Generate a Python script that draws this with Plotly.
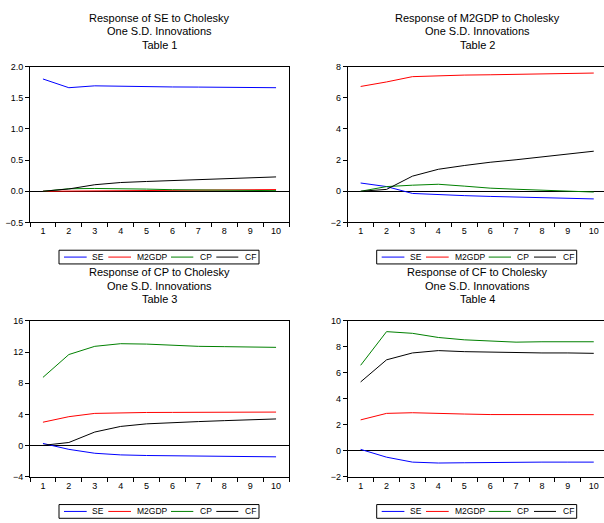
import plotly.graph_objects as go

periods = ["1", "2", "3", "4", "5", "6", "7", "8", "9", "10"]
series_names = ["SE", "M2GDP", "CP", "CF"]
series_colors = ["#0000FF", "#FF0000", "#008000", "#000000"]

# Table 1: Response of SE
t1_se = [1.80, 1.66, 1.69, 1.68, 1.675, 1.672, 1.67, 1.665, 1.66, 1.66]
t1_m2gdp = [0.0, 0.004, 0.008, 0.012, 0.015, 0.018, 0.02, 0.022, 0.025, 0.027]
t1_cp = [0.0, 0.04, 0.045, 0.045, 0.035, 0.025, 0.02, 0.015, 0.012, 0.01]
t1_cf = [0.0, 0.037, 0.105, 0.14, 0.157, 0.17, 0.19, 0.20, 0.22, 0.23]

# Table 2: Response of M2GDP
t2_se = [0.53, 0.30, -0.14, -0.22, -0.28, -0.33, -0.37, -0.41, -0.45, -0.49]
t2_m2gdp = [6.72, 7.01, 7.35, 7.42, 7.45, 7.47, 7.49, 7.52, 7.55, 7.58]
t2_cp = [0.0, 0.30, 0.39, 0.45, 0.33, 0.20, 0.13, 0.07, 0.02, -0.05]
t2_cf = [0.0, 0.12, 0.97, 1.41, 1.65, 1.86, 2.02, 2.20, 2.40, 2.57]

# Table 3: Response of CP
t3_se = [0.28, -0.48, -0.98, -1.19, -1.27, -1.32, -1.36, -1.36, -1.40, -1.44]
t3_m2gdp = [3.0, 3.71, 4.13, 4.22, 4.25, 4.26, 4.26, 4.27, 4.28, 4.30]
t3_cp = [8.75, 11.68, 12.73, 13.07, 13.02, 12.86, 12.73, 12.69, 12.65, 12.60]
t3_cf = [0.03, 0.40, 1.74, 2.46, 2.79, 2.96, 3.08, 3.20, 3.33, 3.42]

# Table 4: Response of CF
t4_se = [0.11, -0.49, -0.87, -0.94, -0.92, -0.89, -0.87, -0.87, -0.87, -0.87]
t4_m2gdp = [2.38, 2.88, 2.93, 2.86, 2.83, 2.79, 2.78, 2.78, 2.78, 2.78]
t4_cp = [6.58, 9.17, 9.04, 8.72, 8.54, 8.44, 8.36, 8.39, 8.39, 8.39]
t4_cf = [5.30, 7.00, 7.53, 7.71, 7.63, 7.58, 7.53, 7.53, 7.53, 7.50]

titles = [
    ["Response of SE to Cholesky", "One S.D. Innovations", "Table 1"],
    ["Response of M2GDP to Cholesky", "One S.D. Innovations", "Table 2"],
    ["Response of CP to Cholesky", "One S.D. Innovations", "Table 3"],
    ["Response of CF to Cholesky", "One S.D. Innovations", "Table 4"],
]
y_ranges = [[-0.5, 2.0], [-2, 8], [-4, 16], [-2, 10]]
y_dticks = [0.5, 2, 4, 2]
y_tickformat = [".1f", "d", "d", "d"]

panels = [
    [t1_se, t1_m2gdp, t1_cp, t1_cf],
    [t2_se, t2_m2gdp, t2_cp, t2_cf],
    [t3_se, t3_m2gdp, t3_cp, t3_cf],
    [t4_se, t4_m2gdp, t4_cp, t4_cf],
]

W, H = 604, 523
FONT = "Liberation Sans, Arial, sans-serif"

# pixel geometry of each panel frame: left, right, top, bottom
frames = [
    (30, 289, 62.7, 221.7),
    (347.7, 604, 62.7, 221.7),
    (30, 289, 322, 481),
    (347.7, 604, 322, 481),
]
cat_w = 25.9

# legend geometry relative to panel frame
leg_box = (29, 229, 28.3, 42.3)          # left, right (from frame left), top, bottom (from frame bottom)
leg_lines = [(5, 27.7), (49.3, 72), (112, 134.3), (157.3, 179.3)]  # from box left
leg_text_x = [31, 76, 138.7, 184.3]


def px(x):
    return x / W


def py(y):
    return 1 - y / H


fig = go.Figure()
annotations = []
shapes = []
layout = dict(
    width=W, height=H,
    margin=dict(l=0, r=0, t=0, b=0, pad=0),
    paper_bgcolor="white", plot_bgcolor="white",
    font=dict(family=FONT, size=9, color="#000000"),
    showlegend=False,
)

for i, (data, fr) in enumerate(zip(panels, frames)):
    idx = "" if i == 0 else str(i + 1)
    xa, ya = "x" + idx, "y" + idx
    for name, color, vals in zip(series_names, series_colors, data):
        fig.add_trace(go.Scatter(
            x=periods, y=vals, mode="lines", name=name,
            line=dict(color=color, width=1),
            xaxis=xa, yaxis=ya,
        ))
    left, right, top, bottom = fr
    x_hi = -0.5 + (right - left) / cat_w
    right_side = i in (1, 3)
    layout["xaxis" + idx] = dict(
        domain=[px(left), px(right)], anchor=ya,
        type="category", range=[-0.5, x_hi],
        tickson="boundaries", ticks="outside", ticklen=4, tickwidth=1,
        tickcolor="#000000", showline=True, linecolor="#000000", linewidth=1,
        mirror=True, showgrid=False, zeroline=False,
        tickfont=dict(family=FONT, size=9, color="#000000"),
    )
    layout["yaxis" + idx] = dict(
        domain=[py(bottom), py(top)], anchor=xa,
        range=y_ranges[i], dtick=y_dticks[i], tick0=0, tickformat=y_tickformat[i],
        ticks="outside", ticklen=4, tickwidth=1, tickcolor="#000000",
        showline=True, linecolor="#000000", linewidth=1,
        mirror=False if right_side else True, showgrid=False,
        zeroline=True, zerolinecolor="#000000", zerolinewidth=1,
        tickfont=dict(family=FONT, size=9, color="#000000"),
    )
    cx = (left + (right if not right_side else 606.7)) / 2
    for k, line in enumerate(titles[i]):
        ty = top - 49.5 + k * 13.6
        annotations.append(dict(
            text=line, xref="paper", yref="paper",
            x=px(cx), y=py(ty), xanchor="center", yanchor="middle",
            showarrow=False, font=dict(family=FONT, size=11, color="#000000"),
        ))
    # legend box
    bl = left + leg_box[0]
    br = left + leg_box[1]
    bt = bottom + leg_box[2]
    bb = bottom + leg_box[3]
    ymid = (bt + bb) / 2
    shapes.append(dict(
        type="rect", xref="paper", yref="paper",
        x0=px(bl), x1=px(br), y0=py(bb), y1=py(bt),
        line=dict(color="#000000", width=1), fillcolor="white", layer="above",
    ))
    for (l0, l1), tx, name, color in zip(leg_lines, leg_text_x, series_names, series_colors):
        shapes.append(dict(
            type="line", xref="paper", yref="paper",
            x0=px(bl + l0), x1=px(bl + l1), y0=py(ymid), y1=py(ymid),
            line=dict(color=color, width=1), layer="above",
        ))
        annotations.append(dict(
            text=name, xref="paper", yref="paper",
            x=px(bl + tx), y=py(ymid), xanchor="left", yanchor="middle",
            showarrow=False, font=dict(family=FONT, size=8.5, color="#000000"),
        ))

layout["annotations"] = annotations
layout["shapes"] = shapes
fig.update_layout(**layout)
fig.write_html(
    "out.html",
    config={"displayModeBar": False},
    post_script="document.body.style.margin='0px';document.body.style.overflow='hidden';",
)
